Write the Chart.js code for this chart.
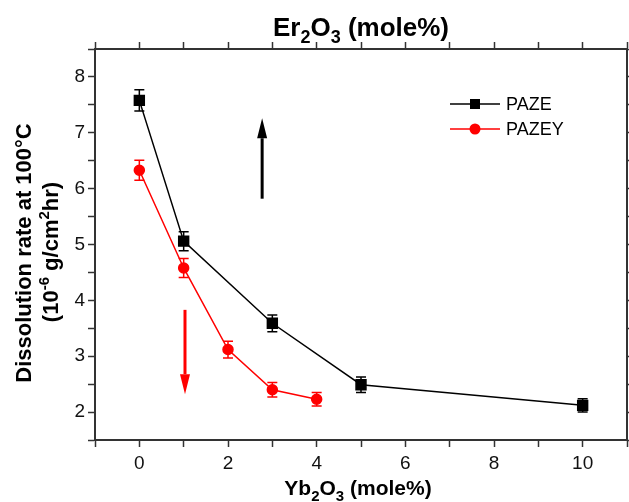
<!DOCTYPE html>
<html>
<head>
<meta charset="utf-8">
<script src="https://cdn.jsdelivr.net/npm/chart.js@4"></script>
<style>
  html, body { margin: 0; padding: 0; background: #fff; }
  #wrap { width: 629px; height: 502px; }
</style>
</head>
<body>
<div id="wrap"><canvas id="dissolution" width="629" height="502"></canvas></div>
<script>
// values
const pazeX = [0, 1, 3, 5, 10];
const pazeY = [7.58, 5.06, 3.59, 2.49, 2.12];
const pazeErr = [0.19, 0.17, 0.15, 0.14, 0.12];

const pazeyX = [0, 1, 2, 3, 4];
const pazeyY = [6.33, 4.58, 3.12, 2.40, 2.23];
const pazeyErr = [0.18, 0.17, 0.15, 0.13, 0.12];

const xTickLabels = [0, 2, 4, 6, 8, 10];
const yTickLabels = [2, 3, 4, 5, 6, 7, 8];

// the two arrows (x position, start value, end value)
const arrowX = [2.77, 1.03];
const arrowFrom = [5.82, 3.83];
const arrowTo = [7.26, 2.32];
const arrowColor = ['#000', '#ff0000'];

const FONT = "'Liberation Sans', Arial, Helvetica, sans-serif";

function toPoints(xs, ys){
    return xs.map((x, i) => ({x: x, y: ys[i]}));
}

// text with sub / superscripts, parts = [[text, 'sub'|'sup'|undefined], ...]
function drawRich(ctx, parts, cx, cy, size){
    let small = Math.round(size * 0.7);
    let widths = parts.map(p => {
        ctx.font = `bold ${p[1] ? small : size}px ${FONT}`;
        return ctx.measureText(p[0]).width;
    });
    let total = widths.reduce((a, b) => a + b, 0);
    let x = cx - total / 2;
    ctx.textAlign = 'left';
    ctx.textBaseline = 'alphabetic';
    parts.forEach((p, i) => {
        ctx.font = `bold ${p[1] ? small : size}px ${FONT}`;
        let dy = 0;
        if (p[1] === 'sub') dy = size * 0.28;
        if (p[1] === 'sup') dy = -size * 0.4;
        ctx.fillText(p[0], x, cy + dy);
        x += widths[i];
    });
}

const errorBars = {
    id: 'errorBars',
    afterDatasetsDraw(chart){
        let ctx = chart.ctx;
        let xs = chart.scales.x, ys = chart.scales.y;
        chart.data.datasets.forEach(ds => {
            ctx.save();
            ctx.strokeStyle = ds.borderColor;
            ctx.lineWidth = 1.5;
            ds.data.forEach((p, i) => {
                let px = xs.getPixelForValue(p.x);
                let top = ys.getPixelForValue(p.y + ds.errors[i]);
                let bot = ys.getPixelForValue(p.y - ds.errors[i]);
                ctx.beginPath();
                ctx.moveTo(px, top); ctx.lineTo(px, bot);
                ctx.moveTo(px - 5, top); ctx.lineTo(px + 5, top);
                ctx.moveTo(px - 5, bot); ctx.lineTo(px + 5, bot);
                ctx.stroke();
            });
            ctx.restore();
        });
    }
};

const arrows = {
    id: 'arrows',
    afterDatasetsDraw(chart){
        let ctx = chart.ctx;
        let xs = chart.scales.x, ys = chart.scales.y;
        arrowX.forEach((ax, i) => {
            let px = xs.getPixelForValue(ax);
            let y1 = ys.getPixelForValue(arrowFrom[i]);
            let y2 = ys.getPixelForValue(arrowTo[i]);
            let dir = y2 < y1 ? -1 : 1;
            let head = 20;
            ctx.save();
            ctx.strokeStyle = arrowColor[i];
            ctx.fillStyle = arrowColor[i];
            ctx.lineWidth = 3;
            ctx.beginPath();
            ctx.moveTo(px, y1);
            ctx.lineTo(px, y2 - dir * head);
            ctx.stroke();
            ctx.beginPath();
            ctx.moveTo(px, y2);
            ctx.lineTo(px - 5, y2 - dir * head);
            ctx.lineTo(px + 5, y2 - dir * head);
            ctx.closePath();
            ctx.fill();
            ctx.restore();
        });
    }
};

const texts = {
    id: 'texts',
    afterDraw(chart){
        let ctx = chart.ctx;
        let area = chart.chartArea;
        let mid = (area.left + area.right) / 2;
        ctx.save();
        ctx.fillStyle = '#000';
        drawRich(ctx, [['Er'], ['2', 'sub'], ['O'], ['3', 'sub'], [' (mole%)']], mid, 36, 26);
        drawRich(ctx, [['Yb'], ['2', 'sub'], ['O'], ['3', 'sub'], [' (mole%)']], mid - 3, 495, 21);

        ctx.save();
        ctx.translate(23, 253);
        ctx.rotate(-Math.PI / 2);
        drawRich(ctx, [['Dissolution rate at 100°C']], 0, 8, 22);
        ctx.restore();
        ctx.save();
        ctx.translate(50, 252);
        ctx.rotate(-Math.PI / 2);
        drawRich(ctx, [['(10'], ['-6', 'sup'], [' g/cm'], ['2', 'sup'], ['hr)']], 0, 8, 22);
        ctx.restore();

        // legend
        chart.data.datasets.forEach((ds, i) => {
            let ly = 104 + i * 25;
            ctx.strokeStyle = ds.borderColor;
            ctx.lineWidth = 1.5;
            ctx.beginPath();
            ctx.moveTo(450, ly); ctx.lineTo(500, ly);
            ctx.stroke();
            ctx.fillStyle = ds.backgroundColor;
            if (ds.pointStyle === 'rect') {
                ctx.fillRect(470, ly - 5, 10, 10);
            } else {
                ctx.beginPath();
                ctx.arc(475, ly, 5.5, 0, Math.PI * 2);
                ctx.fill();
            }
            ctx.fillStyle = '#000';
            ctx.font = `18px ${FONT}`;
            ctx.textAlign = 'left';
            ctx.textBaseline = 'middle';
            ctx.fillText(ds.label, 506, ly + 1);
        });
        ctx.restore();
    }
};

let axisColor = '#333';
let hiddenTicks = { callback: () => '', font: { size: 1 } };
let gridOpts = {
    drawOnChartArea: false,
    drawTicks: true,
    tickLength: 7,
    tickColor: axisColor,
    tickWidth: 1.5
};
let borderOpts = { color: axisColor, width: 2 };

// fixed box sizes so the plot frame lands where it is in the figure
function fixBox(size){
    return s => {
        if (s.isHorizontal()) s.height = size; else s.width = size;
        s.paddingLeft = 0; s.paddingRight = 0;
        s.paddingTop = 0; s.paddingBottom = 0;
    };
}

let ctx = document.getElementById('dissolution').getContext('2d');

let myChart = new Chart(ctx, {
    type: 'scatter',
    data: {
        datasets: [{
            label: 'PAZE',
            data: toPoints(pazeX, pazeY),
            errors: pazeErr,
            showLine: true,
            borderColor: '#000',
            backgroundColor: '#000',
            borderWidth: 1.5,
            pointStyle: 'rect',
            pointRadius: 7,
            pointHoverRadius: 7
        }, {
            label: 'PAZEY',
            data: toPoints(pazeyX, pazeyY),
            errors: pazeyErr,
            showLine: true,
            borderColor: '#ff0000',
            backgroundColor: '#ff0000',
            borderWidth: 1.5,
            pointStyle: 'circle',
            pointRadius: 5,
            pointHoverRadius: 5
        }]
    },
    options: {
        responsive: false,
        animation: false,
        devicePixelRatio: 1,
        layout: { padding: 0, autoPadding: false },
        plugins: {
            legend: { display: false },
            tooltip: { enabled: false }
        },
        scales: {
            x: {
                type: 'linear',
                position: 'bottom',
                min: -1,
                max: 11,
                ticks: {
                    stepSize: 1,
                    autoSkip: false,
                    maxRotation: 0,
                    padding: 5,
                    color: '#111',
                    font: { family: FONT, size: 19 },
                    callback: v => xTickLabels.includes(v) ? String(v) : ''
                },
                grid: gridOpts,
                border: borderOpts,
                afterFit: fixBox(62)
            },
            x2: {
                type: 'linear',
                position: 'top',
                min: -1,
                max: 11,
                ticks: Object.assign({ stepSize: 1, autoSkip: false }, hiddenTicks),
                grid: gridOpts,
                border: borderOpts,
                afterFit: fixBox(49)
            },
            y: {
                type: 'linear',
                position: 'left',
                min: 1.5,
                max: 8.5,
                ticks: {
                    stepSize: 0.5,
                    autoSkip: false,
                    padding: 3,
                    color: '#111',
                    font: { family: FONT, size: 19 },
                    callback: v => yTickLabels.includes(v) ? String(v) : ''
                },
                grid: gridOpts,
                border: borderOpts,
                afterFit: fixBox(95)
            },
            y2: {
                type: 'linear',
                position: 'right',
                min: 1.5,
                max: 8.5,
                ticks: Object.assign({ stepSize: 0.5, autoSkip: false }, hiddenTicks),
                grid: gridOpts,
                border: borderOpts,
                afterFit: fixBox(2)
            }
        }
    },
    plugins: [errorBars, arrows, texts]
});
</script>
</body>
</html>
